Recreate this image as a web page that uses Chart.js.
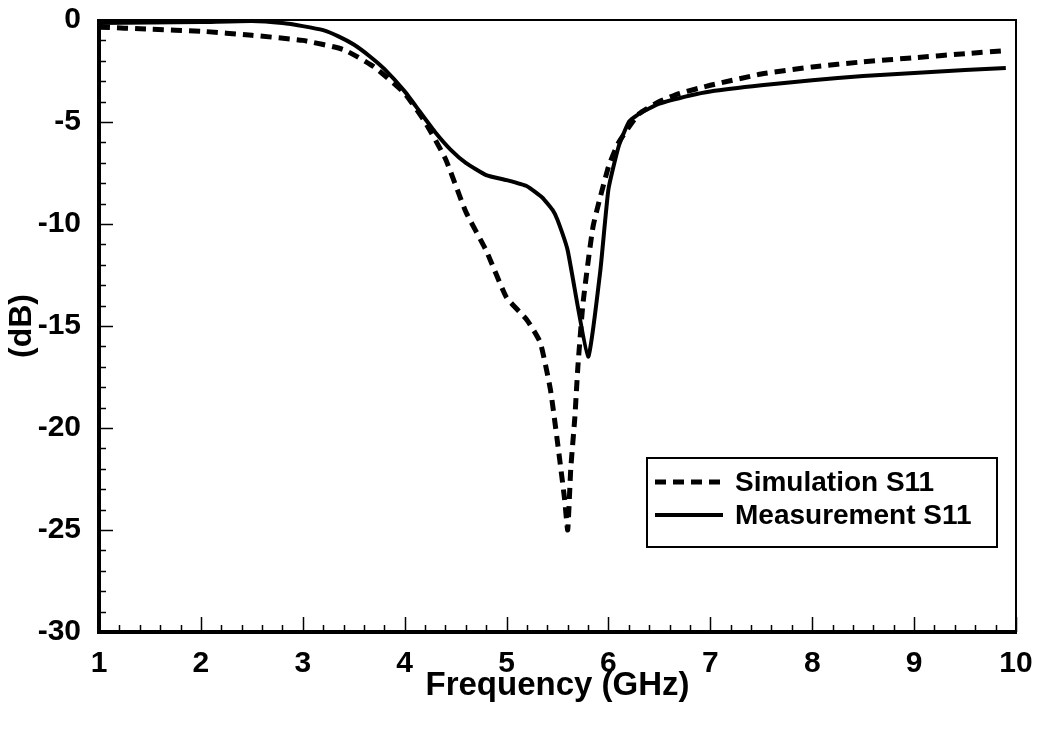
<!DOCTYPE html>
<html>
<head>
<meta charset="utf-8">
<script src="https://cdn.jsdelivr.net/npm/chart.js@4"></script>
<style>
html,body{margin:0;padding:0;background:#fff;}
#wrap{width:1039px;height:731px;position:relative;}
</style>
</head>
<body>
<div id="wrap"><canvas id="c"></canvas></div>
<script>
const simFreq = [1.0,1.5,2.0,2.5,3.0,3.4,3.7,4.0,4.2,4.4,4.6,4.8,5.0,5.2,5.33,5.43,5.5,5.57,5.6,5.63,5.67,5.7,5.75,5.85,6.0,6.1,6.3,6.5,6.7,7.0,7.5,8.0,8.5,9.0,9.5,9.9];
const simDb   = [-0.35,-0.45,-0.55,-0.75,-1.0,-1.45,-2.3,-3.6,-5.0,-6.8,-9.4,-11.3,-13.6,-14.7,-15.8,-18.1,-20.7,-23.5,-25.0,-22.0,-19.5,-17.0,-13.9,-10.1,-7.2,-6.0,-4.6,-4.0,-3.6,-3.2,-2.65,-2.3,-2.05,-1.85,-1.65,-1.5];
const measFreq = [1.0,1.5,2.0,2.5,2.8,3.0,3.2,3.35,3.5,3.65,3.8,4.0,4.15,4.3,4.45,4.6,4.8,5.0,5.2,5.35,5.45,5.5,5.6,5.8,5.92,6.0,6.1,6.2,6.3,6.5,6.8,7.0,7.5,8.0,8.5,9.0,9.5,9.9];
const measDb   = [-0.15,-0.12,-0.1,-0.05,-0.15,-0.3,-0.5,-0.8,-1.2,-1.75,-2.4,-3.5,-4.5,-5.5,-6.35,-7.0,-7.6,-7.85,-8.15,-8.7,-9.3,-9.8,-11.3,-16.5,-12.3,-8.3,-6.2,-5.0,-4.6,-4.1,-3.7,-3.5,-3.2,-2.95,-2.75,-2.6,-2.45,-2.35];
const xTicks = [1,2,3,4,5,6,7,8,9,10];
const yTicks = [0,-5,-10,-15,-20,-25,-30];
const seriesLabels = ['Simulation S11','Measurement S11'];

const FONT = '"Liberation Sans", Arial, Helvetica, sans-serif';

const framePlugin = {
  id: 'frame',
  beforeDatasetsDraw(chart) {
    const ctx = chart.ctx, a = chart.chartArea;
    const xs = chart.scales.x, ys = chart.scales.y;
    ctx.save();
    ctx.strokeStyle = '#000';
    ctx.lineCap = 'butt';
    ctx.lineWidth = 1.5;
    for (let i = 0; i <= 45; i++) {
      const v = 1 + i * 0.2;
      const px = Math.round(xs.getPixelForValue(v)) + 0.5;
      const len = (i % 5 === 0) ? 15 : 7;
      ctx.beginPath(); ctx.moveTo(px, a.bottom); ctx.lineTo(px, a.bottom - len); ctx.stroke();
    }
    for (let i = 0; i <= 30; i++) {
      const v = -i;
      const py = Math.round(ys.getPixelForValue(v)) + 0.5;
      const len = (i % 5 === 0) ? 14 : 7;
      ctx.beginPath(); ctx.moveTo(a.left, py); ctx.lineTo(a.left + len, py); ctx.stroke();
    }
    ctx.lineWidth = 2;
    ctx.beginPath();
    ctx.moveTo(a.left, a.top); ctx.lineTo(a.right, a.top); ctx.lineTo(a.right, a.bottom);
    ctx.stroke();
    ctx.lineWidth = 4;
    ctx.beginPath();
    ctx.moveTo(a.left, a.top - 1); ctx.lineTo(a.left, a.bottom); ctx.lineTo(a.right + 1, a.bottom);
    ctx.stroke();
    ctx.restore();
  },
  afterDraw(chart) {
    const ctx = chart.ctx, a = chart.chartArea;
    const bx = a.right - 369, by = a.top + 438, bw = 350, bh = 89;
    ctx.save();
    ctx.fillStyle = '#fff';
    ctx.fillRect(bx, by, bw, bh);
    ctx.strokeStyle = '#000';
    ctx.lineWidth = 2;
    ctx.strokeRect(bx, by, bw, bh);
    const rows = [by + 24, by + 57];
    chart.data.datasets.forEach((ds, i) => {
      const y = rows[i];
      ctx.save();
      ctx.strokeStyle = ds.borderColor;
      ctx.lineWidth = ds.borderWidth;
      ctx.setLineDash(ds.borderDash || []);
      ctx.beginPath(); ctx.moveTo(bx + 8, y); ctx.lineTo(bx + 76, y); ctx.stroke();
      ctx.restore();
      ctx.fillStyle = '#000';
      ctx.font = 'bold 28px ' + FONT;
      ctx.textBaseline = 'middle';
      ctx.textAlign = 'left';
      ctx.fillText(ds.label, bx + 88, y + 1);
    });
    ctx.restore();
  }
};

new Chart(document.getElementById('c'), {
  type: 'line',
  data: {
    datasets: [
      {
        label: seriesLabels[0],
        data: simFreq.map((f, i) => ({x: f, y: simDb[i]})),
        borderColor: '#000', borderWidth: 5, borderDash: [11, 7], borderCapStyle: 'butt',
        pointRadius: 0, fill: false, tension: 0.15
      },
      {
        label: seriesLabels[1],
        data: measFreq.map((f, i) => ({x: f, y: measDb[i]})),
        borderColor: '#000', borderWidth: 4,
        pointRadius: 0, fill: false, tension: 0.15
      }
    ]
  },
  options: {
    responsive: true,
    maintainAspectRatio: false,
    animation: false,
    layout: { padding: { top: 20, right: 23, left: 0, bottom: 0 } },
    plugins: { legend: { display: false }, tooltip: { enabled: false } },
    scales: {
      x: {
        type: 'linear', min: 1, max: 10,
        afterFit(s) { s.height = 99; s.paddingLeft = 0; s.paddingRight = 0; s.paddingTop = 0; s.paddingBottom = 0; },
        afterBuildTicks(s) { s.ticks = xTicks.map(v => ({value: v})); },
        grid: { display: false, drawTicks: false },
        border: { display: false },
        ticks: { color: '#000', padding: 14, font: { family: FONT, size: 30, weight: 'bold' }, maxRotation: 0, autoSkip: false },
        title: { display: true, text: 'Frequency (GHz)', color: '#000', font: { family: FONT, size: 33, weight: 'bold' }, padding: { top: 0, bottom: 25 } }
      },
      y: {
        type: 'linear', min: -30, max: 0,
        afterFit(s) { s.width = 99; s.paddingTop = 0; s.paddingBottom = 0; s.paddingLeft = 0; s.paddingRight = 0; },
        afterBuildTicks(s) { s.ticks = yTicks.map(v => ({value: v})); },
        grid: { display: false, drawTicks: false },
        border: { display: false },
        ticks: { color: '#000', padding: 18, font: { family: FONT, size: 30, weight: 'bold' }, autoSkip: false },
        title: { display: true, text: '(dB)', color: '#000', font: { family: FONT, size: 32, weight: 'bold' }, padding: { top: 3, bottom: 0 } }
      }
    }
  },
  plugins: [framePlugin]
});
</script>
</body>
</html>
